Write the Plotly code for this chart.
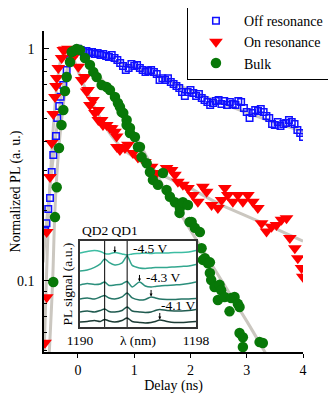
import plotly.graph_objects as go

# ---- main panel data ----
off_x = [-0.586, -0.560, -0.528, -0.497, -0.467, -0.439, -0.391, -0.369, -0.333, -0.308,
         -0.262, -0.201, -0.142, -0.083, -0.023,
         0.0, 0.05, 0.1, 0.15, 0.2, 0.25, 0.3, 0.35, 0.4, 0.45, 0.5, 0.55, 0.6, 0.65, 0.7,
         0.75, 0.8, 0.85, 0.9, 0.95, 1.0, 1.05, 1.1, 1.15, 1.2, 1.25, 1.3, 1.35, 1.4, 1.45,
         1.5, 1.55, 1.6, 1.65, 1.7, 1.75, 1.8, 1.85, 1.9, 1.95, 2.0, 2.05, 2.1, 2.15, 2.2,
         2.25, 2.3, 2.35, 2.4, 2.45, 2.5, 2.55, 2.6, 2.65, 2.7, 2.75, 2.8, 2.85, 2.9, 2.95,
         3.0, 3.05, 3.1, 3.15, 3.2, 3.25, 3.3, 3.35, 3.4, 3.45, 3.5, 3.55, 3.6, 3.65, 3.7,
         3.75, 3.8, 3.85, 3.9, 3.95, 4.0]
off_y = [0.164, 0.177, 0.204, 0.227, 0.294, 0.348, 0.420, 0.503, 0.566, 0.621,
         0.698, 0.809, 0.894, 0.949, 0.977,
         1.0, 0.987, 0.968, 0.977, 0.958, 0.968, 0.949, 0.958, 0.939, 0.949, 0.930, 0.921,
         0.939, 0.912, 0.894, 0.868, 0.842, 0.809, 0.826, 0.859, 0.842, 0.851, 0.826, 0.809,
         0.794, 0.801, 0.809, 0.794, 0.778, 0.733, 0.746, 0.733, 0.746, 0.719, 0.704, 0.690,
         0.677, 0.651, 0.625, 0.651, 0.664, 0.644, 0.625, 0.638, 0.613, 0.601, 0.589, 0.572,
         0.583, 0.595, 0.601, 0.578, 0.595, 0.572, 0.589, 0.578, 0.572, 0.595, 0.589, 0.555,
         0.534, 0.503, 0.528, 0.544, 0.539, 0.550, 0.534, 0.513, 0.503, 0.473, 0.469, 0.483,
         0.464, 0.473, 0.478, 0.493, 0.483, 0.473, 0.446, 0.433, 0.416]

on_x = [-0.586, -0.556, -0.556, -0.497, -0.467, -0.439, -0.409, -0.391, -0.378, -0.350,
        -0.290, -0.261, -0.231, -0.178, -0.142, -0.083, 0.005, 0.066, 0.124, 0.155, 0.178,
        0.213, 0.266, 0.302, 0.361, 0.361, 0.421, 0.444, 0.510, 0.568, 0.599, 0.657, 0.687,
        0.693, 0.746, 0.835, 0.888, 0.977, 1.066, 1.190, 1.309, 1.398, 1.575, 1.664, 1.723,
        1.776, 1.865, 1.954, 2.043, 2.131, 2.220, 2.286, 2.375, 2.487, 2.553, 2.611, 2.664,
        2.753, 2.842, 2.931, 3.020, 3.108, 3.197, 3.263, 3.352, 3.441, 3.529, 3.618, 3.707,
        3.766, 3.855, 3.908, 3.974, 3.996]
on_y = [0.054, 0.085, 0.162, 0.280, 0.392, 0.523, 0.619, 0.690, 0.748, 0.826,
        0.912, 0.987, 0.992, 1.0, 0.987, 0.921, 0.836, 0.733, 0.755, 0.653, 0.664,
        0.572, 0.601, 0.528, 0.493, 0.544, 0.493, 0.469, 0.469, 0.455, 0.454, 0.439, 0.418,
        0.377, 0.366, 0.373, 0.385, 0.355, 0.340, 0.325, 0.310, 0.291, 0.306, 0.300, 0.286,
        0.267, 0.259, 0.251, 0.234, 0.219, 0.254, 0.242, 0.212, 0.206, 0.223, 0.251, 0.234,
        0.219, 0.234, 0.219, 0.234, 0.219, 0.206, 0.177, 0.163, 0.171, 0.174, 0.183, 0.186,
        0.153, 0.138, 0.125, 0.1135, 0.104]

bulk_x = [-0.439, -0.409, -0.378, -0.337, -0.293, -0.261, -0.231, -0.201, -0.142, -0.112,
          -0.083, -0.023, 0.036, 0.124, 0.213, 0.272, 0.332, 0.421, 0.510, 0.568, 0.657,
          0.710, 0.746, 0.776, 0.805, 0.865, 0.865, 0.924, 0.924, 1.012, 1.066, 1.101, 1.131,
          1.220, 1.279, 1.332, 1.421, 1.510, 1.575, 1.634, 1.723, 1.806, 1.812, 1.865, 1.954,
          1.984, 2.020, 2.078, 2.167, 2.197, 2.220, 2.256, 2.309, 2.345, 2.345, 2.368, 2.428,
          2.517, 2.545, 2.487, 2.606, 2.723, 2.783, 2.842, 2.694, 2.872, 2.872, 2.931, 2.931,
          3.228, 3.286]
bulk_y = [0.0987, 0.188, 0.253, 0.373, 0.469, 0.544, 0.657, 0.755, 0.876, 0.968,
          0.977, 0.997, 0.987, 0.912, 0.851, 0.794, 0.755, 0.697, 0.684, 0.664, 0.619,
          0.583, 0.561, 0.533, 0.528, 0.493, 0.469, 0.455, 0.433, 0.416, 0.377, 0.377, 0.341,
          0.321, 0.294, 0.272, 0.259, 0.291, 0.246, 0.230, 0.218, 0.196, 0.206, 0.218, 0.212,
          0.179, 0.179, 0.169, 0.162, 0.138, 0.123, 0.125, 0.119, 0.120, 0.108, 0.1007, 0.094,
          0.096, 0.091, 0.0826, 0.0851, 0.0842, 0.0851, 0.0795, 0.0738, 0.0771, 0.0595, 0.0571,
          0.0518, 0.0544, 0.0539]

# fitted curves (gray)
off_fit_x = [-0.62, -0.586, -0.5, -0.4, -0.3, -0.2, -0.1, 0.0, 0.1, 0.5, 1.0, 1.5, 2.0, 2.5, 3.0, 3.5, 4.0]
off_fit_y = [0.12, 0.15, 0.25, 0.41, 0.62, 0.80, 0.94, 0.99, 0.97, 0.91, 0.83, 0.75, 0.66, 0.59, 0.53, 0.48, 0.44]
on_fit_x = [-0.6, -0.5, -0.4, -0.3, -0.2, -0.1, 0.0, 0.2, 0.4, 0.6, 0.8, 1.0, 1.5, 2.0, 2.5, 3.0, 3.5, 4.0]
on_fit_y = [0.05, 0.25, 0.60, 0.90, 1.0, 0.93, 0.80, 0.62, 0.50, 0.42, 0.37, 0.34, 0.285, 0.25, 0.215, 0.19, 0.168, 0.148]
bulk_fit_x = [-0.51, -0.45, -0.41, -0.35, -0.3, -0.25, -0.2, -0.15, -0.1, -0.05, 0.0, 0.1, 0.2, 0.4,
              0.6, 0.8, 1.0, 1.2, 1.5, 2.0, 2.5, 3.0, 3.33]
bulk_fit_y = [0.049, 0.10, 0.20, 0.35, 0.47, 0.60, 0.74, 0.86, 0.95, 0.99, 1.0, 0.96, 0.88, 0.75,
              0.63, 0.52, 0.43, 0.35, 0.26, 0.165, 0.105, 0.067, 0.049]

x_ticks = [0, 1, 2, 3, 4]
y_ticks = [0.1, 1]
y_ticktext = ["0.1", "1"]
y_minor = [0.05, 0.06, 0.07, 0.08, 0.09, 0.2, 0.3, 0.4, 0.5, 0.6, 0.7, 0.8, 0.9]

# ---- inset data: PL spectra, offset for display ----
lam = [1190.0, 1190.5, 1191.0, 1191.4, 1191.7, 1192.0, 1192.4, 1192.9, 1193.25, 1193.6,
       1194.1, 1194.5, 1194.9, 1195.2, 1195.5, 1196.0, 1196.5, 1197.0, 1197.5, 1198.0]
spectra = [
    [74, 75.5, 76.5, 75.5, 73.5, 73, 74.5, 73, 72, 73, 73.5, 74, 73.5, 74, 74, 74, 74.5, 74.5, 75, 76.5],
    [56, 57, 59.5, 63, 68, 64.5, 62, 64, 71, 61.5, 59, 58.5, 59, 59.5, 59.5, 59.5, 60, 60.5, 61, 62.5],
    [42, 43.5, 42.5, 43, 45, 41.5, 42, 43, 45.5, 40, 45, 41, 40, 40.5, 41, 41.5, 42, 42.5, 43.5, 45],
    [28, 29, 28, 30, 31.5, 29, 28, 30, 34, 29, 27, 27.5, 30, 29, 28, 27.5, 27.5, 28, 28, 28.5],
    [15, 16, 15, 16.5, 18, 15.5, 15, 16.5, 20, 16, 15, 14.5, 15, 16.5, 17.5, 16.5, 16, 16, 16.5, 17.5],
    [5, 5.5, 6.5, 5.5, 7.5, 6, 5, 6.5, 9, 5.5, 4.5, 4, 4.5, 5.5, 7, 5.5, 4.5, 4.5, 5, 5.5],
]
spec_colors = ["#3dbda3", "#33a78f", "#2b8f7c", "#257566", "#1f5a4f", "#1c3b35"]
qd_lam = [1191.7, 1193.25]
arrow_lam = [1192.4, 1194.1, 1194.9, 1195.5]
arrow_tip = [74, 45.5, 30.5, 7.5]
volt_text = ["-4.5 V", "-4.3 V", "-4.1 V"]
volt_lam = [1194.85, 1195.75, 1196.8]
volt_level = [78, 49, 21]

SERIF = "Liberation Serif, Times New Roman, serif"
FIT = "#cbc7c0"
FONT = dict(family=SERIF, size=14, color="black")
SMALL = dict(family=SERIF, size=13.5, color="black")

fig = go.Figure()

for fx, fy in [(off_fit_x, off_fit_y), (on_fit_x, on_fit_y), (bulk_fit_x, bulk_fit_y)]:
    fig.add_trace(go.Scatter(x=fx, y=fy, mode="lines", line=dict(color=FIT, width=3, shape="spline"),
                             showlegend=False, hoverinfo="skip"))

fig.add_trace(go.Scatter(x=off_x, y=off_y, mode="markers", name="Off resonance",
                         marker=dict(symbol="square-open", size=6.5, color="#1010ff",
                                     line=dict(width=1.5, color="#1010ff"))))
fig.add_trace(go.Scatter(x=on_x, y=on_y, mode="markers", name="On resonance",
                         marker=dict(symbol="triangle-down", size=12, color="#ff0000")))
fig.add_trace(go.Scatter(x=bulk_x, y=bulk_y, mode="markers", name="Bulk",
                         marker=dict(symbol="circle", size=10.5, color="#087808")))

# inset spectra
for vals, col in zip(spectra, spec_colors):
    fig.add_trace(go.Scatter(x=lam, y=vals, xaxis="x2", yaxis="y2", mode="lines",
                             line=dict(color=col, width=1.5, shape="spline", smoothing=0.8),
                             showlegend=False, hoverinfo="skip"))

for q in qd_lam:
    fig.add_shape(type="line", xref="x2", yref="y2 domain", x0=q, x1=q, y0=0, y1=1,
                  line=dict(color="black", width=1))

for ax_l, tip in zip(arrow_lam, arrow_tip):
    fig.add_annotation(x=ax_l, y=tip, xref="x2", yref="y2", text="", showarrow=True,
                       ax=0, ay=-8, arrowhead=2, arrowsize=0.6, arrowwidth=1, arrowcolor="black")

for t, xl, yl in zip(volt_text, volt_lam, volt_level):
    fig.add_annotation(x=xl, y=yl, xref="x2", yref="y2", text=t, showarrow=False, font=SMALL)

fig.add_annotation(x=1190, y=1, xref="x2", yref="y2 domain", yanchor="bottom", xanchor="left",
                   yshift=1, text="QD2 QD1", showarrow=False, font=SMALL)
fig.add_annotation(x=0, y=0.5, xref="x2 domain", yref="y2 domain", xanchor="right", xshift=-3,
                   text="PL signal (a.u.)", textangle=-90, showarrow=False, font=SMALL)

# the page body adds an 8px margin, so the figure is 8px smaller and margins shifted
fig.update_layout(
    width=328, height=387,
    margin=dict(l=36, r=33, t=23, b=43, autoexpand=False),
    paper_bgcolor="white", plot_bgcolor="rgba(0,0,0,0)",
    font=FONT,
    xaxis=dict(range=[-0.604, 4.0], tickvals=x_ticks, ticks="outside", ticklen=4,
               tickwidth=1.2, tickcolor="black", showline=True, linecolor="black",
               linewidth=1.5, showgrid=False, zeroline=False, automargin=False,
               tickfont=FONT, title=dict(text="Delay (ns)", standoff=2, font=FONT)),
    yaxis=dict(type="log", range=[-1.307, 0.076], tickvals=y_ticks, ticktext=y_ticktext,
               ticks="inside", ticklen=5, tickwidth=1.2, tickcolor="black",
               minor=dict(tickvals=y_minor, ticks="inside", ticklen=3, tickwidth=1,
                          tickcolor="black", showgrid=False),
               showline=True, linecolor="black", linewidth=1.5, showgrid=False,
               zeroline=False, ticklabelstandoff=5, automargin=False, tickfont=FONT,
               title=dict(text="Normalized PL (a. u.)", standoff=8, font=FONT)),
    xaxis2=dict(domain=[0.139, 0.587], anchor="y2", range=[1190, 1198],
                tickvals=[1190, 1194, 1198], ticktext=["1190", "λ (nm)", "1198"],
                ticks="", showline=True, mirror=True, linecolor="#333333", linewidth=1.5,
                showgrid=False, zeroline=False, tickfont=SMALL, automargin=False),
    yaxis2=dict(domain=[0.078, 0.346], anchor="x2", range=[0, 86], showticklabels=False,
                ticks="", showline=True, mirror=True, linecolor="#333333", linewidth=1.5,
                showgrid=False, zeroline=False, automargin=False),
    legend=dict(x=0.552, y=1.084, xanchor="left", yanchor="top", bgcolor="white",
                bordercolor="black", borderwidth=1, font=FONT, itemwidth=46,
                tracegroupgap=0),
    showlegend=True,
)

fig.write_html("out.html")
